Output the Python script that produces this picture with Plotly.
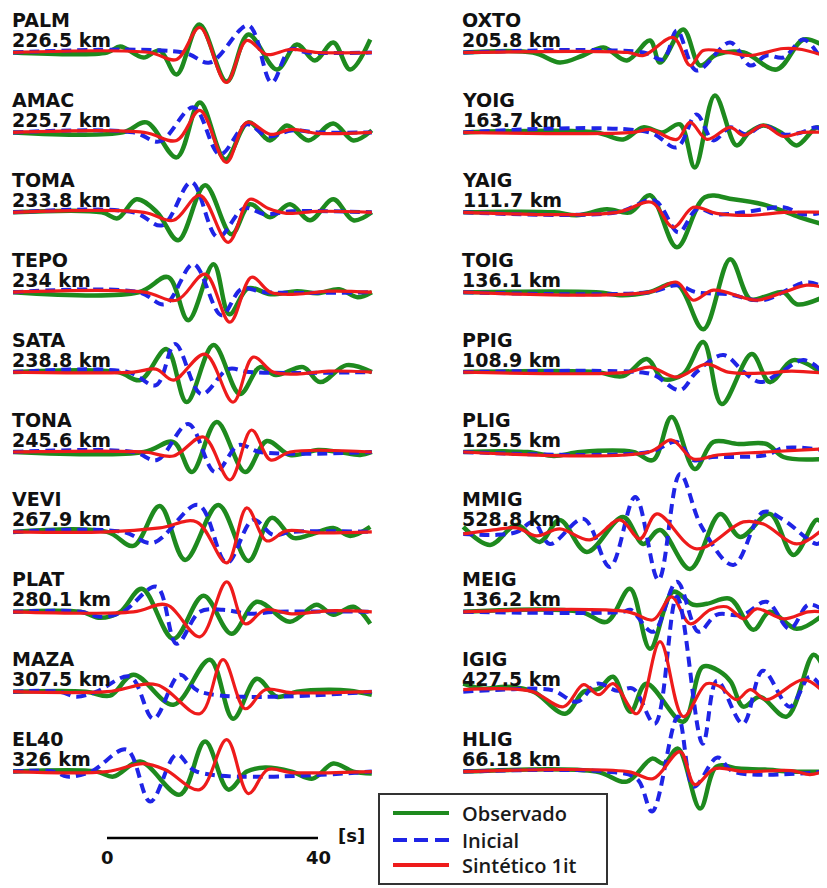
import plotly.graph_objects as go

# ---------------- station labels ----------------
LEFT_STATIONS = ["PALM", "AMAC", "TOMA", "TEPO", "SATA", "TONA", "VEVI", "PLAT", "MAZA", "EL40"]
LEFT_DIST = ["226.5 km", "225.7 km", "233.8 km", "234 km", "238.8 km", "245.6 km",
             "267.9 km", "280.1 km", "307.5 km", "326 km"]
RIGHT_STATIONS = ["OXTO", "YOIG", "YAIG", "TOIG", "PPIG", "PLIG", "MMIG", "MEIG", "IGIG", "HLIG"]
RIGHT_DIST = ["205.8 km", "163.7 km", "111.7 km", "136.1 km", "108.9 km", "125.5 km",
              "528.8 km", "136.2 km", "427.5 km", "66.18 km"]
SERIES_NAMES = ["Observado", "Inicial", "Sintético 1it"]
SCALE_TICKS = [0, 40]          # seconds
SCALE_UNIT = "[s]"

# ---------------- waveforms: (time [s], amplitude) knots ----------------
PALM_OBS = [(-17.8,0),(0,0),(2.5,6),(6.9,-5),(10,2),(13.2,-22),(17.5,28),(22.7,-29),(26.8,18),(32.2,-17),(36,8),(39.4,-8),(42.9,10),(46.1,-17),(49.9,13)]
PALM_INI = [(-17.8,0),(14.5,0),(19.5,-10),(26.8,27),(31.2,-30),(34.7,3),(38,0),(50.2,0)]
PALM_SYN = [(-17.8,0),(8,0),(13.2,-7),(17.6,25),(22.6,-30),(26.5,12),(30.3,-2),(34.7,3),(40,0),(50.2,0)]

AMAC_OBS = [(-17.8,0),(3,0),(7.5,10),(13.2,-25),(17.6,30),(22.4,-27),(26.8,10),(30.9,-8),(34.1,7),(38.2,-8),(42.9,9),(46.7,-8),(50.2,2)]
AMAC_INI = [(-17.8,0),(5,0),(10,-9),(16.4,25),(21.4,-22),(26.5,8),(30.5,-4),(35,2),(40,0),(50.2,0)]
AMAC_SYN = [(-17.8,0),(7,0),(13.2,-8),(17.6,22),(22.6,-30),(26.5,10),(31,-2),(35,3),(40,-1),(50.2,0)]

TOMA_OBS = [(-17.8,0),(-1,0),(2,-6),(5.6,13),(9.5,0),(13.5,-28),(18.6,27),(23.6,-22),(27.1,8),(30.9,-5),(34.7,8),(38.5,-8),(42.9,13),(46.7,-8),(50.2,0)]
TOMA_INI = [(-17.8,0),(5,0),(10.5,-13),(16,30),(21,-25),(26,4),(30,-2),(35,1),(50.2,0)]
TOMA_SYN = [(-17.8,0),(7,0),(12.6,-8),(17.6,17),(23,-30),(27.1,13),(30.5,4),(34,-1),(40,1),(50.2,0)]

TEPO_OBS = [(-17.8,0),(6,0),(11.6,15),(15.4,-28),(20.2,28),(23.2,-22),(26.8,4),(31,-2),(36,1),(40,-1),(44,3),(47.5,-5),(50.2,0)]
TEPO_INI = [(-17.8,0),(6,0),(11,-12),(16.4,28),(21.7,-23),(25.5,3),(30,0),(50.2,0)]
TEPO_SYN = [(-17.8,0),(7,0),(13.2,-8),(18.6,18),(23.3,-30),(27.4,15),(31,0),(36,-2),(42,1),(50.2,0)]

SATA_OBS = [(-17.8,0),(2,0),(6.3,-8),(11.3,23),(15.1,-30),(20.2,27),(25.2,-22),(29,5),(32,-3),(37.2,5),(40.4,-10),(45.4,7),(50.2,0)]
SATA_INI = [(-17.8,0),(4,0),(9.3,-13),(12.9,28),(17.9,-22),(23,3),(27,0),(50.2,0)]
SATA_SYN = [(-17.8,0),(5,0),(9.3,3),(12.6,-8),(18.6,18),(23.9,-30),(27.7,15),(31.5,0),(36,-2),(42,1),(50.2,0)]

TONA_OBS = [(-17.8,0),(7,0),(12.6,10),(16.1,-20),(20.8,30),(26.2,-20),(30.3,11),(34.7,-3),(40,2),(44,0),(48,-3),(50.2,0)]
TONA_INI = [(-17.8,0),(5,0),(9.5,-8),(15.4,28),(20.5,-20),(25,7),(29,0),(50.2,0)]
TONA_SYN = [(-17.8,0),(7,0),(12.6,-4),(18.3,15),(23.3,-28),(27.4,22),(31,-8),(34.7,0),(50.2,0)]

VEVI_OBS = [(-17.8,0),(0,0),(5,-14),(10,26),(14.8,-28),(21.1,27),(26.8,-29),(31.2,14),(35.3,-6),(38.5,-3),(42.9,4),(46.1,-4),(49.9,5)]
VEVI_INI = [(-17.8,0),(3,0),(8.7,-11),(17.3,27),(22.7,-31),(27.7,12),(31.5,-3),(35,0),(50.2,0)]
VEVI_SYN = [(-17.8,0),(0,0),(10,4),(17,10),(22.7,-31),(26.5,24),(30.3,-9),(34,1),(40,-1),(50.2,0)]

PLAT_OBS = [(-17.8,0),(-5,0),(-1.3,-6),(2.5,0),(6.6,23),(12.6,-27),(18.3,16),(23.6,-22),(28.4,10),(34.7,-10),(39.7,7),(42.9,-3),(46.7,5),(49.9,-12)]
PLAT_INI = [(-17.8,0),(-5,0),(-1.3,-5),(3,0),(9.4,25),(13.2,-32),(17.6,0),(22,2),(27,-2),(32,0),(50.2,0)]
PLAT_SYN = [(-17.8,0),(5,0),(11.3,7),(17.6,-25),(22.7,30),(26.2,-12),(30,2),(35,-2),(42,1),(50.2,0)]

MAZA_OBS = [(-17.8,0),(-4,0),(0.6,-4),(5,17),(12.6,-13),(19.5,32),(23.9,-27),(28.4,13),(32.2,-5),(36,0),(42,2),(46,1),(50.2,-3)]
MAZA_INI = [(-17.8,0),(-9,0),(-5.8,-5),(-2,0),(4.4,15),(8.8,-27),(13.8,17),(17.6,0),(50.2,0)]
MAZA_SYN = [(-17.8,0),(0,0),(9.4,7),(17.6,-22),(22,32),(26.2,-17),(30,2),(35,-1),(50.2,0)]

EL40_OBS = [(-17.8,0),(-2,0),(1.2,-5),(6.3,10),(13.8,-23),(18.6,30),(23,-18),(26.5,0),(30,4),(35,0),(39,-7),(42.9,8),(46.7,0),(50.2,-2)]
EL40_INI = [(-17.8,0),(-10,0),(-7.6,-5),(-3,0),(3.7,22),(8.2,-30),(13.2,17),(17,0),(50.2,0)]
EL40_SYN = [(-17.8,0),(0,0),(6.9,8),(11,2),(17.6,-18),(22.7,32),(26.8,-22),(30.5,2),(35,-1),(50.2,0)]

OXTO_OBS = [(-17.2,0),(-4,0),(1.1,-10),(5.5,-3),(9.4,5),(13.8,-8),(18.2,12),(20.1,-10),(24.5,23),(27.7,-13),(30.8,-2),(36,0),(42.2,-17),(47.3,13),(51,7)]
OXTO_INI = [(-17.2,0),(17,0),(20.7,-7),(23.3,22),(27,-18),(33.4,10),(37.2,-13),(40.3,-3),(43.5,-5),(47.3,13),(51,-10)]
OXTO_SYN = [(-17.2,0),(14,0),(17,-3),(22.6,15),(25.8,-13),(28.3,2),(33,0),(37.2,-3),(43.5,4),(47,3),(51,-3)]

YOIG_OBS = [(-17.2,0),(8,0),(13.1,-7),(16.9,5),(20.5,0),(23.9,8),(26.7,-35),(30.5,37),(34.6,-13),(37,0),(39.7,7),(43,0),(46,-13),(49.8,5),(51,2)]
YOIG_INI = [(-17.2,0),(18,0),(23.3,-15),(27,18),(30.2,-8),(33.4,5),(36.5,-2),(39.7,7),(43.5,-2),(47,0),(49.8,5),(51,0)]
YOIG_SYN = [(-17.2,0),(15,0),(18.2,3),(23.3,-7),(25.8,10),(29,-7),(33.4,5),(36,-3),(39.7,7),(43.5,-4),(47,0),(51,0)]

YAIG_OBS = [(-17.2,0),(0,0),(4.3,-3),(10,3),(14.5,0),(18.2,17),(23.3,-35),(28.6,15),(34,13),(40.3,7),(46.6,-5),(51,-12)]
YAIG_INI = [(-17.2,0),(12,0),(19,12),(23.6,-20),(27.1,3),(30.8,-2),(36,0),(43.5,5),(47.3,-2),(51,0)]
YAIG_SYN = [(-17.2,0),(12,0),(18.5,10),(22.6,-15),(26.4,5),(30.8,-1),(37.2,-3),(43.5,0),(51,0)]

TOIG_OBS = [(-17.2,0),(8,0),(13,-3),(18,0),(23.3,8),(28.3,-37),(33.4,33),(37.2,-7),(40.3,-4),(43.5,0),(46,-12),(51,-5)]
TOIG_INI = [(-17.2,0),(18,0),(23.3,7),(27,0),(33,-2),(39.5,-8),(47.9,10),(51,5)]
TOIG_SYN = [(-17.2,0),(18,0),(23.3,10),(26.4,-8),(30.2,2),(38.4,-8),(43.5,0),(47.9,7),(51,5)]

PPIG_OBS = [(-17.2,0),(8,0),(13.1,-4),(17.6,13),(20.7,-7),(24.5,-2),(28.3,30),(31.8,-32),(37.5,18),(40.9,-10),(45.4,12),(51,-2)]
PPIG_INI = [(-17.2,0),(16,0),(19,-3),(23.9,-18),(27,0),(32.1,17),(36,0),(39.1,-10),(43,0),(47.3,12),(51,0)]
PPIG_SYN = [(-17.2,0),(14,0),(18.2,5),(23.3,-5),(28.9,8),(33,0),(40,-1),(45,1),(51,-1)]

PLIG_OBS = [(-17.2,0),(-5,0),(0,-4),(5,0),(15,0),(18.8,-8),(22.3,35),(26.7,-17),(30.2,10),(35,8),(40.3,8),(43.5,-5),(51,-7)]
PLIG_INI = [(-17.2,0),(18,0),(23.3,10),(26.4,-8),(30,-5),(34,-5),(40.3,-3),(43.5,4),(51,2)]
PLIG_SYN = [(-17.2,0),(18,0),(22.3,12),(26.4,-7),(31,-3),(40,0),(51,3)]

MMIG_OBS = [(-17.2,5),(-12.1,-13),(-7.1,7),(-2.7,-10),(1.1,12),(6.2,-20),(13.1,15),(16.9,-12),(20.1,2),(25.8,-37),(31.5,18),(35.3,-5),(40.9,18),(45.4,-23),(49.8,12),(51,8)]
MMIG_INI = [(-17.2,-2),(-11,-3),(-7,0),(-3.9,10),(-0.8,-12),(5.6,13),(10.6,-35),(15.4,35),(19.8,-48),(23.9,58),(28,5),(34,-33),(39.7,20),(43.5,12),(49.8,-12),(51,-8)]
MMIG_SYN = [(-17.2,-2),(-11.5,2),(-7.1,4),(-3.3,-4),(1.1,3),(6.8,-8),(12.5,12),(16.3,-7),(19.5,18),(27,-17),(35.9,10),(39.7,8),(46,-12),(51,3)]

MEIG_OBS = [(-17.2,0),(5,0),(10,-10),(14.4,23),(18.2,-37),(22.6,20),(26.4,7),(29,8),(33.4,13),(37.8,-18),(40.9,0),(46,-17),(51,-3)]
MEIG_INI = [(-17.2,0),(13,0),(14.5,2),(18.8,-20),(23.3,30),(27.4,-20),(30.8,-3),(35.8,-3),(40.3,10),(44.7,-17),(48.2,7),(51,2)]
MEIG_SYN = [(-17.2,0),(14,0),(18.8,-8),(22.3,15),(25.8,-12),(29.6,2),(32.7,5),(36,-7),(38.4,3),(43.5,-7),(48.2,0),(51,0)]

IGIG_OBS = [(-17.2,8),(-13.4,3),(-9,5),(-3.9,0),(2.1,-22),(5.6,0),(8.5,3),(11.2,15),(14.5,-20),(17.5,8),(24.5,-30),(28.2,25),(31.5,20),(33.5,10),(35.9,-15),(39,-5),(44.1,-25),(49.2,37),(51,25)]
IGIG_INI = [(-17.2,0),(-10,2),(-3,3),(0,1),(4.4,-10),(8.2,8),(12,1),(15,3),(19.1,-32),(23.3,95),(28.2,-52),(30.9,11),(35.8,-32),(39.6,21),(44.7,-15),(48.5,15),(51,2)]
IGIG_SYN = [(-17.2,2),(-10,3),(-4,0),(1.8,-15),(5.6,7),(8.5,-3),(11.2,8),(15.7,-22),(20.1,50),(24.5,-25),(28.9,8),(31.5,5),(34.6,-8),(37.2,2),(40.3,-8),(47.3,12),(51,0)]

HLIG_OBS = [(-17.2,0),(8,0),(13.8,-10),(18.6,13),(20.8,8),(23.5,23),(27.7,-37),(30.8,5),(35,3),(40,2),(45,0),(51,0)]
HLIG_INI = [(-17.2,0),(10,0),(15.7,-7),(18.6,-40),(23.5,55),(26.5,-15),(31,14),(34,0),(51,0)]
HLIG_SYN = [(-17.2,0),(14,0),(18.8,-7),(23.9,20),(26.7,-13),(30.5,3),(36,0),(45,1),(48.5,-3),(51,0)]

WAVES = {name: (globals()[name + "_OBS"], globals()[name + "_INI"], globals()[name + "_SYN"])
         for name in LEFT_STATIONS + RIGHT_STATIONS}

# ---------------- styling / layout constants ----------------
PAGE_W, PAGE_H = 827, 888           # browser window
OFF = 8                             # default page margin around the plot div
W, H = PAGE_W - OFF, PAGE_H - OFF   # figure size
SPACING = 79.9                      # vertical offset between traces (amplitude units = px)
TOP_BASE = 52.5                     # page row of the first baseline
PX_PER_S = 5.275
LEFT_ZERO_PX, RIGHT_ZERO_PX = 107, 554
MID_PX = 413.5


def px(xp):
    """page x pixel -> paper fraction"""
    return (xp - OFF) / W


def py(yp):
    """page y pixel -> paper fraction"""
    return 1 - (yp - OFF) / H


STYLES = [
    dict(color="#1e8a1e", width=4.5, dash="solid"),   # Observado
    dict(color="#1f24e6", width=4, dash="10px,6px"),  # Inicial
    dict(color="#ee1b1b", width=3.2, dash="solid"),   # Sintético
]

fig = go.Figure()
for stations, xa in ((LEFT_STATIONS, "x"), (RIGHT_STATIONS, "x2")):
    for i, st in enumerate(stations):
        for k in range(3):
            pts = WAVES[st][k]
            fig.add_trace(go.Scatter(
                x=[p[0] for p in pts],
                y=[p[1] - i * SPACING for p in pts],
                mode="lines",
                line=dict(color=STYLES[k]["color"], width=STYLES[k]["width"],
                          dash=STYLES[k]["dash"], shape="spline", smoothing=1),
                name=SERIES_NAMES[k], legendgroup=SERIES_NAMES[k],
                showlegend=False, hoverinfo="skip", xaxis=xa, yaxis="y"))

# two-line station labels: line pitch set by the base font (15.5px * 1.3 ~ 20px),
# glyphs drawn at 19px
LABEL_FONT = dict(family="DejaVu Sans", size=15.5, color="#111")
LBL = "<span style='font-size:19px'><b>%s</b></span>"
annotations = []
for stations, dists, x0 in ((LEFT_STATIONS, LEFT_DIST, 10), (RIGHT_STATIONS, RIGHT_DIST, 460)):
    for i, (st, d) in enumerate(zip(stations, dists)):
        base = -i * SPACING
        annotations.append(dict(text=(LBL % st) + "<br>" + (LBL % d), xref="paper", yref="y",
                                x=px(x0), y=base + 22.5, align="left",
                                xanchor="left", yanchor="middle", showarrow=False, font=LABEL_FONT))

# time scale bar
SCALE_FONT = dict(family="DejaVu Sans", size=18, color="#111")
shapes = [dict(type="line", xref="x", yref="paper", x0=SCALE_TICKS[0], x1=SCALE_TICKS[1],
               y0=py(838), y1=py(838), line=dict(color="black", width=2.5))]
for tv in SCALE_TICKS:
    annotations.append(dict(text="<b>%d</b>" % tv, xref="x", yref="paper", x=tv, y=py(857),
                            xanchor="center", yanchor="middle", showarrow=False, font=SCALE_FONT))
annotations.append(dict(text="<b>%s</b>" % SCALE_UNIT, xref="x", yref="paper", x=46.4, y=py(835),
                        xanchor="center", yanchor="middle", showarrow=False, font=SCALE_FONT))

# legend box
shapes.append(dict(type="rect", xref="paper", yref="paper", x0=px(379), x1=px(607),
                   y0=py(884), y1=py(794), line=dict(color="#333", width=2),
                   fillcolor="white", layer="above"))
for k, ly in zip(range(3), (813, 840, 865)):
    shapes.append(dict(type="line", xref="paper", yref="paper", x0=px(393), x1=px(449),
                       y0=py(ly), y1=py(ly), layer="above",
                       line=dict(color=STYLES[k]["color"], width=4,
                                 dash="14px,7px" if k == 1 else "solid")))
    annotations.append(dict(text=SERIES_NAMES[k], xref="paper", yref="paper", x=px(460), y=py(ly),
                            xanchor="left", yanchor="middle", showarrow=False,
                            font=dict(family="Open Sans", size=20, color="#1a1a1a", weight=600)))

fig.update_layout(
    width=W, height=H, autosize=False,
    margin=dict(l=0, r=0, t=0, b=0),
    paper_bgcolor="white", plot_bgcolor="white",
    showlegend=False,
    xaxis=dict(domain=[0, px(MID_PX)],
               range=[(OFF - LEFT_ZERO_PX) / PX_PER_S, (MID_PX - LEFT_ZERO_PX) / PX_PER_S],
               visible=False, fixedrange=True),
    xaxis2=dict(domain=[px(MID_PX), 1],
                range=[(MID_PX - RIGHT_ZERO_PX) / PX_PER_S, (PAGE_W - RIGHT_ZERO_PX) / PX_PER_S],
                visible=False, anchor="y", fixedrange=True),
    yaxis=dict(range=[TOP_BASE - PAGE_H, TOP_BASE - OFF], visible=False, fixedrange=True),
    shapes=shapes, annotations=annotations,
)
fig.write_html("out.html")
